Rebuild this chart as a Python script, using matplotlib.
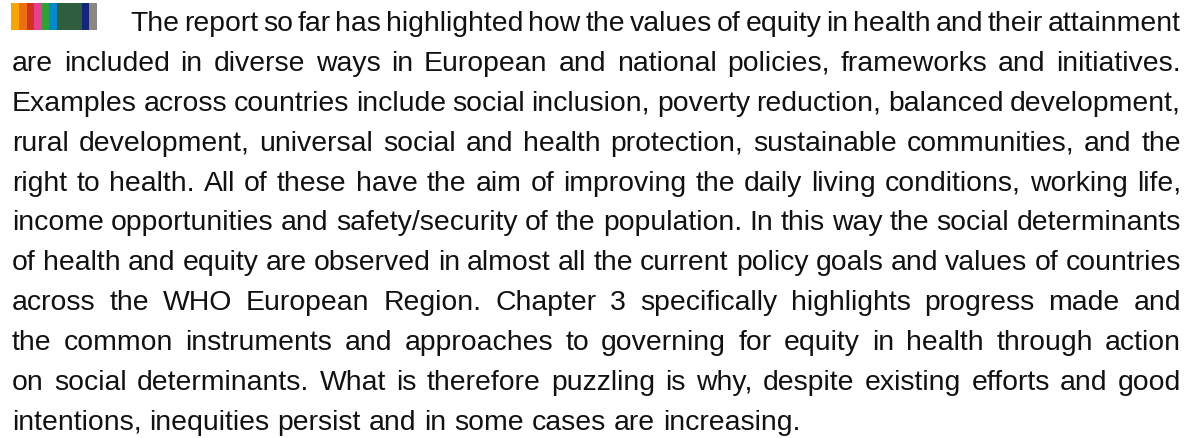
import matplotlib
matplotlib.use("Agg")
import matplotlib.pyplot as plt
from matplotlib.patches import Rectangle

# text lines as they break in the reference (justified paragraph)
lines = [
    "The report so far has highlighted how the values of equity in health and their attainment",
    "are included in diverse ways in European and national policies, frameworks and initiatives.",
    "Examples across countries include social inclusion, poverty reduction, balanced development,",
    "rural development, universal social and health protection, sustainable communities, and the",
    "right to health. All of these have the aim of improving the daily living conditions, working life,",
    "income opportunities and safety/security of the population. In this way the social determinants",
    "of health and equity are observed in almost all the current policy goals and values of countries",
    "across the WHO European Region. Chapter 3 specifically highlights progress made and",
    "the common instruments and approaches to governing for equity in health through action",
    "on social determinants. What is therefore puzzling is why, despite existing efforts and good",
    "intentions, inequities persist and in some cases are increasing.",
]

# colour strip at the start of the paragraph
strip_colors = ["#F7A600", "#EE6F11", "#D0331E", "#E8408F", "#2DA334",
                "#0089CF", "#2F5E3E", "#13257C", "#8E8680"]
strip_widths = [8, 8, 7, 8, 7, 8, 25, 7, 8]

W, H = 1187, 439
fig = plt.figure(figsize=(W / 100, H / 100), dpi=100)
fig.patch.set_facecolor("white")

# strip
x = 11
for c, w in zip(strip_colors, strip_widths):
    fig.patches.append(Rectangle((x / W, 1 - 31 / H), w / W, 27 / H,
                                 transform=fig.transFigure, color=c, lw=0))
    x += w

family = "Liberation Sans"
left, right = 12, 1181
first_left = 130
base0, step = 31, 39.9

renderer = fig.canvas.get_renderer()

def width_px(s, size):
    t = fig.text(0, 0, s, fontsize=size, family=family)
    w = t.get_window_extent(renderer).width
    t.remove()
    return w

# fit font size so the last (unjustified) line is as wide as in the reference
size = 21
size = size * (800 - left) / width_px(lines[-1], size)

for i, line in enumerate(lines):
    words = line.split()
    y = 1 - (base0 + i * step) / H
    x0 = first_left if i == 0 else left
    widths = [width_px(wd, size) for wd in words]
    if i == len(lines) - 1:
        gap = width_px("a b", size) - width_px("ab", size)
    else:
        gap = (right - x0 - sum(widths)) / (len(words) - 1)
    x = x0
    for wd, w in zip(words, widths):
        fig.text(x / W, y, wd, fontsize=size, family=family,
                 va="baseline", ha="left", color="#111111")
        x += w + gap

fig.savefig("out.png", dpi=100, facecolor="white")
